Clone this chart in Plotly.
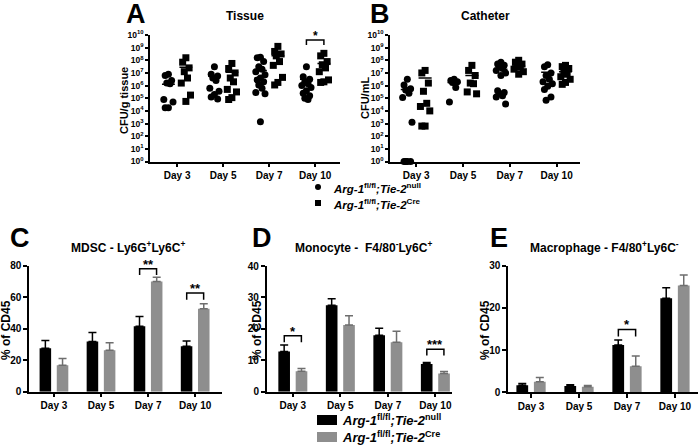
import plotly.graph_objects as go

W, H = 700, 446
FONT = "Liberation Sans"

days = ["Day 3", "Day 5", "Day 7", "Day 10"]

# ---- Panel A: Tissue (log10 CFU/g tissue) ----
tissue_null = [
    [6.9, 6.8, 6.4, 6.2, 6.15, 4.9, 4.7, 4.25, 4.25],
    [7.5, 6.9, 6.75, 6.6, 6.4, 5.8, 5.55, 5.3, 5.1, 4.95],
    [8.25, 8.2, 7.9, 7.5, 7.3, 7.1, 6.85, 6.6, 6.45, 6.3, 6.05, 5.8, 5.45, 5.35, 3.15],
    [7.5, 6.7, 6.5, 6.3, 6.15, 6.0, 5.85, 5.6, 5.4, 5.2, 5.0, 4.9],
]
tissue_cre = [
    [8.2, 7.85, 7.4, 7.1, 6.6, 6.2, 5.25, 4.75],
    [7.75, 7.35, 7.0, 6.6, 6.3, 5.7, 5.5, 5.05, 4.9],
    [9.1, 8.7, 8.5, 8.35, 7.9, 7.6, 6.65, 6.25, 6.05],
    [8.55, 8.35, 7.9, 7.65, 7.4, 7.1, 6.45, 6.3, 6.25],
]
tissue_null_mean = [6.1, 6.75, 7.2, 6.5]
tissue_cre_mean = [7.45, 7.05, 8.35, 7.75]

# ---- Panel B: Catheter (log10 CFU/mL) ----
cath_null = [
    [6.5, 6.05, 5.75, 5.65, 5.4, 5.05, 3.1, 0, 0, 0, 0],
    [6.5, 6.4, 6.3, 6.25, 5.85, 4.7],
    [7.85, 7.7, 7.6, 7.5, 7.35, 7.2, 7.0, 6.8, 5.6, 5.45, 5.35, 5.2, 5.1, 4.55],
    [7.65, 7.5, 7.0, 6.8, 6.5, 6.3, 6.15, 5.95, 5.7, 5.1, 4.85],
]
cath_cre = [
    [7.2, 7.0, 6.2, 5.55, 4.6, 4.35, 4.0, 2.8, 2.8],
    [7.6, 7.2, 6.8, 6.2, 6.15, 5.5, 5.35],
    [8.0, 7.85, 7.7, 7.6, 7.45, 7.3, 7.1, 6.9],
    [7.6, 7.5, 7.35, 7.1, 6.9, 6.7, 6.5, 6.25, 6.1],
]
cath_null_mean = [5.7, 6.25, 7.3, 7.05]
cath_cre_mean = [6.6, 6.8, 7.55, 7.1]

# ---- Panels C-E: % of CD45 ----
mdsc_null = [27.5, 31.8, 41.5, 28.8]
mdsc_null_err = [5.0, 5.8, 6.2, 3.3]
mdsc_cre = [16.8, 26.2, 69.8, 52.6]
mdsc_cre_err = [4.3, 4.9, 2.8, 3.2]

mono_null = [12.8, 27.5, 18.0, 8.8]
mono_null_err = [2.1, 2.1, 2.2, 0.5]
mono_cre = [6.5, 21.2, 15.7, 5.8]
mono_cre_err = [0.9, 3.0, 3.5, 0.6]

macro_null = [1.7, 1.5, 11.2, 22.3]
macro_null_err = [0.4, 0.3, 1.2, 2.5]
macro_cre = [2.5, 1.3, 6.2, 25.3]
macro_cre_err = [1.0, 0.3, 2.4, 2.5]

# significance: (day index, bracket top, leg bottom, label)
tissue_sig = [(3, 9.6, 9.2, "*")]
mdsc_sig = [(2, 78, 74, "**"), (3, 62.5, 58.3, "**")]
mono_sig = [(0, 17.8, 15.7, "*"), (3, 13.5, 11.5, "***")]
macro_sig = [(2, 14.9, 13.2, "*")]

BLACK = "#000000"
GRAY = "#8e8e8e"

fig = go.Figure()


def px_x(a, b):
    return [a / W, b / W]


def px_y(top, bottom):
    return [1 - bottom / H, 1 - top / H]


axis_common = dict(showline=True, linecolor="black", linewidth=1.5, ticks="outside",
                   ticklen=4, tickwidth=1.5, tickcolor="black", showgrid=False,
                   zeroline=False, automargin=False,
                   tickfont=dict(family=FONT, size=10, color="black", weight="bold"))

panels = {
    "A": dict(x=px_x(150, 340), y=px_y(35, 161.5), xr=[-0.59, 3.54]),
    "B": dict(x=px_x(390, 580), y=px_y(35, 161.5), xr=[-0.56, 3.5]),
    "C": dict(x=px_x(29, 222), y=px_y(265.5, 391.7), xr=[-0.53, 3.57]),
    "D": dict(x=px_x(266.7, 452), y=px_y(266, 391.7), xr=[-0.55, 3.35]),
    "E": dict(x=px_x(508, 698), y=px_y(265.7, 392.3), xr=[-0.48, 3.48]),
}
names = ["A", "B", "C", "D", "E"]
layout_axes = {}
for i, n in enumerate(names):
    k = "" if i == 0 else str(i + 1)
    p = panels[n]
    xa = dict(axis_common, domain=p["x"], range=p["xr"], anchor="y" + k,
              tickvals=[0, 1, 2, 3], ticktext=days)
    ya = dict(axis_common, domain=p["y"], anchor="x" + k)
    layout_axes["xaxis" + k] = xa
    layout_axes["yaxis" + k] = ya

for k in ["", "2"]:
    layout_axes["yaxis" + k].update(
        type="log", range=[0, 10],
        tickvals=[10 ** e for e in range(11)],
        ticktext=[f"10<sup>{e}</sup>" for e in range(11)],
        ticklen=3,
        tickfont=dict(family=FONT, size=8.5, color="black", weight="bold"))
layout_axes["yaxis3"].update(range=[0, 80], tickvals=[0, 20, 40, 60, 80])
layout_axes["yaxis4"].update(range=[0, 40], tickvals=[0, 10, 20, 30, 40])
layout_axes["yaxis5"].update(range=[0, 30], tickvals=[0, 10, 20, 30])

SPREAD = [0, -0.07, 0.07, -0.035, 0.035, -0.1, 0.1]


def swarm(groups, side, xa, ya, symbol):
    xs, ys = [], []
    for d, vals in enumerate(groups):
        for j, v in enumerate(sorted(vals, reverse=True)):
            xs.append(d + side + SPREAD[j % len(SPREAD)])
            ys.append(10 ** v)
    fig.add_trace(go.Scatter(x=xs, y=ys, mode="markers", xaxis=xa, yaxis=ya,
                             cliponaxis=False, showlegend=False,
                             marker=dict(symbol=symbol, size=7, color="black")))


def means(vals, side, xa, ya):
    xs, ys = [], []
    for d, v in enumerate(vals):
        xs += [d + side - 0.14, d + side + 0.14, None]
        ys += [10 ** v, 10 ** v, None]
    fig.add_trace(go.Scatter(x=xs, y=ys, mode="lines", xaxis=xa, yaxis=ya,
                             showlegend=False, line=dict(color="black", width=1.5)))


def brackets(sigs, off, xa, ya, log=False, starsize=13):
    f = (lambda v: 10 ** v) if log else (lambda v: v)
    for d, top, leg, lab in sigs:
        fig.add_trace(go.Scatter(x=[d - off, d - off, d + off, d + off],
                                 y=[f(leg), f(top), f(top), f(leg)], mode="lines",
                                 xaxis=xa, yaxis=ya, showlegend=False, cliponaxis=False,
                                 line=dict(color="black", width=1.5)))
        fig.add_annotation(x=d, y=top, xref=xa, yref=ya, text=lab,
                           showarrow=False, yanchor="bottom", yshift=-5,
                           font=dict(family=FONT, size=starsize, color="black", weight="bold"))


swarm(tissue_null, -0.19, "x", "y", "circle")
swarm(tissue_cre, 0.19, "x", "y", "square")
means(tissue_null_mean, -0.19, "x", "y")
means(tissue_cre_mean, 0.19, "x", "y")
brackets(tissue_sig, 0.19, "x", "y", log=True, starsize=12)

swarm(cath_null, -0.19, "x2", "y2", "circle")
swarm(cath_cre, 0.19, "x2", "y2", "square")
means(cath_null_mean, -0.19, "x2", "y2")
means(cath_cre_mean, 0.19, "x2", "y2")


def bars(null, nerr, cre, cerr, xa, ya):
    x = [0, 1, 2, 3]
    fig.add_trace(go.Bar(x=x, y=null, width=0.245, offset=-0.305, xaxis=xa, yaxis=ya,
                         marker=dict(color=BLACK, line=dict(width=0)), showlegend=False,
                         error_y=dict(type="data", array=nerr, arrayminus=[0] * 4,
                                      color="black", thickness=1.5, width=4)))
    fig.add_trace(go.Bar(x=x, y=cre, width=0.245, offset=0.06, xaxis=xa, yaxis=ya,
                         marker=dict(color=GRAY, line=dict(width=0)), showlegend=False,
                         error_y=dict(type="data", array=cerr, arrayminus=[0] * 4,
                                      color="#6e6e6e", thickness=1.5, width=4)))


bars(mdsc_null, mdsc_null_err, mdsc_cre, mdsc_cre_err, "x3", "y3")
bars(mono_null, mono_null_err, mono_cre, mono_cre_err, "x4", "y4")
bars(macro_null, macro_null_err, macro_cre, macro_cre_err, "x5", "y5")
brackets(mdsc_sig, 0.18, "x3", "y3")
brackets(mono_sig, 0.18, "x4", "y4")
brackets(macro_sig, 0.18, "x5", "y5")


def ann(text, x, y, size, xanchor="center", yanchor="middle", angle=0, italic=False):
    fig.add_annotation(x=x / W, y=1 - y / H, xref="paper", yref="paper", text=text,
                       showarrow=False, xanchor=xanchor, yanchor=yanchor, textangle=angle,
                       font=dict(family=FONT, size=size, color="black", weight="bold",
                                 style="italic" if italic else "normal"))


# panel letters
for lab, x, y in [("A", 124, 14), ("B", 368, 14), ("C", 8, 238), ("D", 250, 238), ("E", 488, 238)]:
    ann(lab, x, y, 27, xanchor="left")

# titles
ann("Tissue", 245, 16, 12)
ann("Catheter", 485, 16, 12)
ann("MDSC - Ly6G<sup>+</sup>Ly6C<sup>+</sup>", 128, 247, 12)
ann("Monocyte -  F4/80<sup>-</sup>Ly6C<sup>+</sup>", 363, 247, 12)
ann("Macrophage - F4/80<sup>+</sup>Ly6C<sup>-</sup>", 604, 247, 12)

# y-axis titles
ann("CFU/g tissue", 124, 100, 11, angle=-90)
ann("CFU/mL", 365, 98, 11, angle=-90)
ann("% of CD45", 6, 330, 12, angle=-90)
ann("% of CD45", 257, 330, 12, angle=-90)
ann("% of CD45", 485, 330, 12, angle=-90)

# legends
UP = '<span style="font-style:normal">'
null_lab = f"Arg-1<sup>{UP}fl/fl</span></sup>;Tie-2<sup>{UP}null</span></sup>"
cre_lab = f"Arg-1<sup>{UP}fl/fl</span></sup>;Tie-2<sup>{UP}Cre</span></sup>"
fig.add_shape(type="circle", xref="paper", yref="paper",
              x0=315 / W, x1=321 / W, y0=1 - 190 / H, y1=1 - 184 / H,
              fillcolor="black", line=dict(width=0))
fig.add_shape(type="rect", xref="paper", yref="paper",
              x0=315 / W, x1=321 / W, y0=1 - 206 / H, y1=1 - 200 / H,
              fillcolor="black", line=dict(width=0))
ann(null_lab, 331, 188, 11.5, xanchor="left", italic=True)
ann(cre_lab, 331, 204, 11.5, xanchor="left", italic=True)

fig.add_shape(type="rect", xref="paper", yref="paper",
              x0=317 / W, x1=337 / W, y0=1 - 425 / H, y1=1 - 415 / H,
              fillcolor=BLACK, line=dict(width=0))
fig.add_shape(type="rect", xref="paper", yref="paper",
              x0=317 / W, x1=337 / W, y0=1 - 442 / H, y1=1 - 432 / H,
              fillcolor=GRAY, line=dict(width=0))
ann(null_lab, 340, 420, 13, xanchor="left", italic=True)
ann(cre_lab, 340, 437, 13, xanchor="left", italic=True)

fig.update_layout(width=W, height=H, margin=dict(l=0, r=0, t=0, b=0),
                  paper_bgcolor="white", plot_bgcolor="white", barmode="overlay",
                  font=dict(family=FONT, color="black"), **layout_axes)

fig.write_html("out.html", config={"displayModeBar": False},
               post_script="document.body.style.margin='0px';document.body.style.overflow='hidden';")
